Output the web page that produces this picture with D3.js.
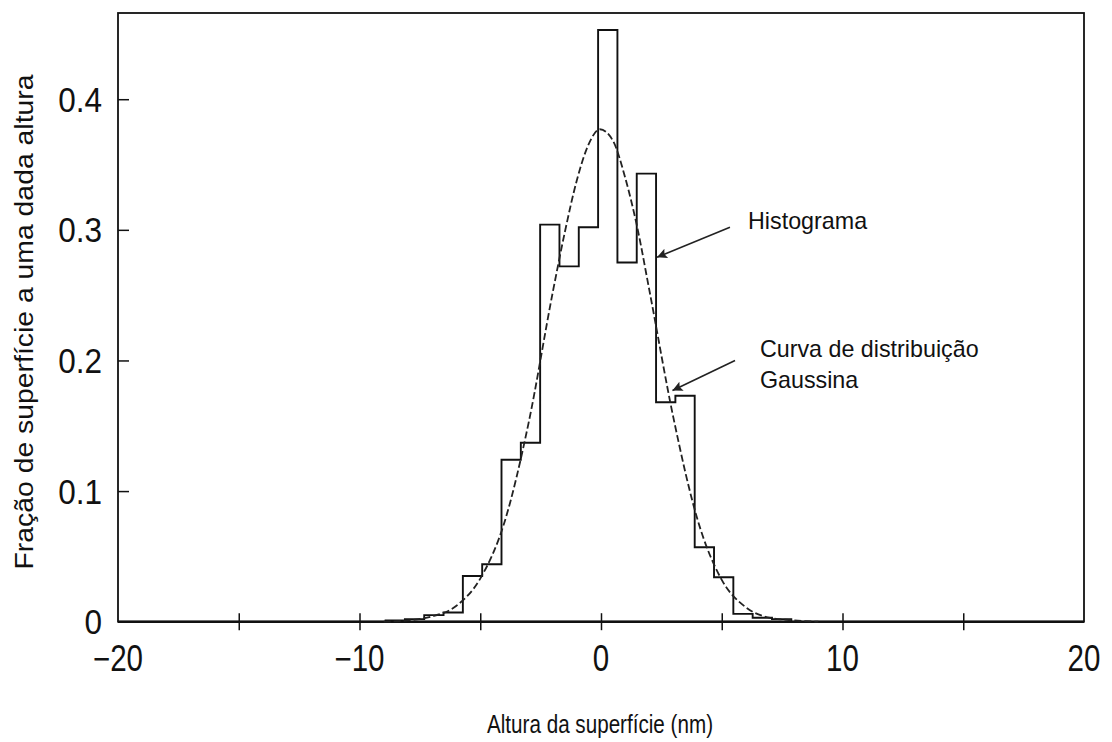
<!DOCTYPE html>
<html><head><meta charset="utf-8">
<script src="https://cdn.jsdelivr.net/npm/d3@7"></script>
<style>
html,body{margin:0;padding:0;background:#fff;}
svg{display:block;}
text{fill:#111;}
</style></head>
<body>
<svg id="chart" width="1112" height="742"></svg>
<script>
// ---- data ----
const binEdges = [-8.92,-8.12,-7.32,-6.52,-5.72,-4.92,-4.12,-3.32,-2.52,-1.72,-0.92,-0.12,0.68,1.48,2.28,3.08,3.88,4.68,5.48,6.28,7.08,7.88];
const binValues = [0.001,0.002,0.005,0.007,0.035,0.044,0.124,0.137,0.304,0.272,0.302,0.453,0.275,0.343,0.168,0.173,0.057,0.034,0.006,0.003,0.002];
const gaussX = [-9,-8,-7,-6,-5,-4,-3,-2,-1.5,-1,-0.5,-0.05,0.5,1,1.5,2,3,4,5,6,7,8,9];
const gaussY = [0.000,0.001,0.004,0.012,0.033,0.076,0.152,0.252,0.298,0.338,0.366,0.377,0.368,0.340,0.302,0.254,0.156,0.078,0.032,0.011,0.003,0.001,0.000];
const xTicks = [-20,-15,-10,-5,0,5,10,15,20];
const xTickLabels = ["\u221220","","\u221210","","0","","10","","20"];
const yTicks = [0,0.1,0.2,0.3,0.4];
const yTickLabels = ["0","0.1","0.2","0.3","0.4"];
const xTitle = "Altura da superfície (nm)";
const yTitle = "Fração de superfície a uma dada altura";
const notes = [
  {lines:["Histograma"], tx:6.09, ty:0.301, ax:5.34, ay:0.302, bx:2.32, by:0.279},
  {lines:["Curva de distribuição","Gaussina"], tx:6.58, ty:0.203, ax:5.55, ay:0.200, bx:2.96, by:0.177}
];

// ---- drawing ----
const svg = d3.select("#chart");
const x = d3.scaleLinear().domain([-20,20]).range([118,1084]);
const y = d3.scaleLinear().domain([0,0.466]).range([621.7,13]);
const font = "'Liberation Sans', Arial, sans-serif";

function condense(sel, k){
  sel.each(function(){
    const L = this.getComputedTextLength();
    if (L > 0) d3.select(this).attr("textLength", L*k).attr("lengthAdjust","spacingAndGlyphs");
  });
}

svg.append("defs").append("marker")
  .attr("id","arr").attr("viewBox","0 0 10 10").attr("refX",10).attr("refY",5)
  .attr("markerWidth",18).attr("markerHeight",10).attr("markerUnits","userSpaceOnUse")
  .attr("orient","auto")
  .append("path").attr("d","M0,0 L10,5 L0,10 L2,5 Z").attr("fill","#222");

// frame
svg.append("rect").attr("x",x(-20)).attr("y",y(0.466))
  .attr("width",x(20)-x(-20)).attr("height",y(0)-y(0.466))
  .attr("fill","none").attr("stroke","#111").attr("stroke-width",1.8);
svg.append("line").attr("x1",x(-20)).attr("x2",x(20)).attr("y1",y(0)).attr("y2",y(0))
  .attr("stroke","#111").attr("stroke-width",2.4);

// x ticks
const xAxis = d3.axisBottom(x).tickValues(xTicks.filter(t=>t>-20&&t<20)).tickSize(17).tickFormat("");
const gx = svg.append("g").attr("transform",`translate(0,${y(0)-8.5})`).call(xAxis);
gx.select(".domain").remove();
gx.selectAll(".tick line").attr("stroke","#111").attr("stroke-width",1.5);
svg.append("g").selectAll("text").data(xTicks).join("text")
  .attr("x",(d)=>x(d)).attr("y",y(0)+49)
  .attr("text-anchor","middle").attr("font-family",font).attr("font-size",36)
  .text((d,i)=>xTickLabels[i])
  .call(condense, 0.82);

// y ticks
const yAxis = d3.axisRight(y).tickValues(yTicks.filter(t=>t>0)).tickSize(11).tickFormat("");
const gy = svg.append("g").attr("transform",`translate(${x(-20)},0)`).call(yAxis);
gy.select(".domain").remove();
gy.selectAll(".tick line").attr("stroke","#111").attr("stroke-width",1.5);
svg.append("g").selectAll("text").data(yTicks).join("text")
  .attr("x",102).attr("y",(d)=>y(d)).attr("dy","0.36em")
  .attr("text-anchor","end").attr("font-family",font).attr("font-size",35)
  .text((d,i)=>yTickLabels[i])
  .call(condense, 0.9);

// titles
svg.append("text").attr("x",600).attr("y",733).attr("text-anchor","middle")
  .attr("font-family",font).attr("font-size",25).attr("textLength",226).attr("lengthAdjust","spacingAndGlyphs")
  .text(xTitle);
svg.append("text").attr("transform","translate(33,322) rotate(-90)").attr("text-anchor","middle")
  .attr("font-family",font).attr("font-size",25).attr("textLength",495).attr("lengthAdjust","spacingAndGlyphs")
  .text(yTitle);

// histogram (step outline)
const histPts = [[binEdges[0],0]];
binValues.forEach((v,i)=>histPts.push([binEdges[i],v]));
histPts.push([binEdges[binEdges.length-1],0]);
svg.append("path").datum(histPts)
  .attr("d",d3.line().x(d=>x(d[0])).y(d=>y(d[1])).curve(d3.curveStepAfter))
  .attr("fill","none").attr("stroke","#111").attr("stroke-width",1.9);

// gaussian (dashed)
svg.append("path").datum(gaussX.map((v,i)=>[v,gaussY[i]]))
  .attr("d",d3.line().x(d=>x(d[0])).y(d=>y(d[1])).curve(d3.curveMonotoneX))
  .attr("fill","none").attr("stroke","#222").attr("stroke-width",1.8)
  .attr("stroke-dasharray","7,3");

// annotations
notes.forEach(n=>{
  svg.append("line").attr("x1",x(n.ax)).attr("y1",y(n.ay)).attr("x2",x(n.bx)).attr("y2",y(n.by))
    .attr("stroke","#222").attr("stroke-width",1.6).attr("marker-end","url(#arr)");
  n.lines.forEach((t,i)=>{
    svg.append("text").attr("x",x(n.tx)).attr("y",y(n.ty)+i*31)
      .attr("font-family",font).attr("font-size",24).text(t)
      .call(condense, 0.97);
  });
});
</script>
</body></html>
